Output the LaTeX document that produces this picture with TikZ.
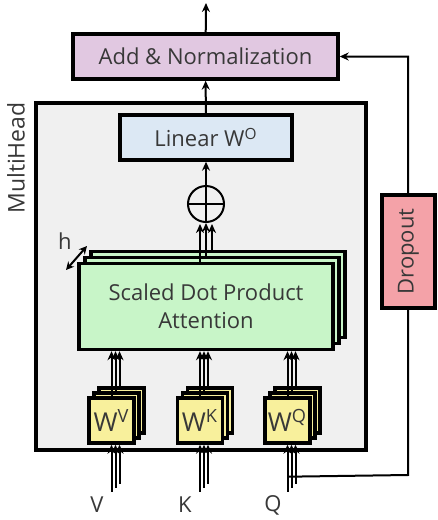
\documentclass[tikz,border=0pt]{standalone}
\usepackage{fontspec}
\setmainfont{Open Sans}
\usetikzlibrary{arrows.meta}

\definecolor{addcol}{HTML}{E1C8E1}
\definecolor{mhcol}{HTML}{F0F0F0}
\definecolor{lincol}{HTML}{DCE8F4}
\definecolor{attcol}{HTML}{C8F5C8}
\definecolor{wcol}{HTML}{F8F09C}
\definecolor{dropcol}{HTML}{F4A2A8}
\definecolor{txtcol}{HTML}{383838}

\begin{document}
\begin{tikzpicture}[x=0.5pt,y=-0.5pt,
    box/.style={draw,line width=1.7pt,inner sep=0pt,text=txtcol,font=\fontsize{11}{14}\selectfont},
    arr/.style={-{Stealth[length=4.5pt,width=4pt]},line width=1pt},
    wbox/.style={box,fill=wcol,minimum width=22.5pt,minimum height=22.5pt,font=\fontsize{13}{15}\selectfont},
    attbox/.style={box,fill=attcol,minimum width=127pt,minimum height=43pt,align=center}]
  \useasboundingbox (0,0) rectangle (438,520);

  % outer block
  \node[box,fill=mhcol,minimum width=165pt,minimum height=173.5pt] (mh) at (201,276.5) {};
  \node[rotate=90,text=txtcol,font=\fontsize{11.5}{14}\selectfont] (mhlabel) at (16,158) {MultiHead};

  \node[box,fill=addcol,minimum width=132.5pt,minimum height=22.5pt] (addnorm) at (205.5,56.5) {Add \& Normalization};
  \node[box,fill=lincol,minimum width=86pt,minimum height=22.5pt] (linear) at (206,137.5) {Linear W\textsuperscript{O}};
  \node[draw,circle,line width=1pt,minimum size=18pt,inner sep=0pt] (plus) at (206,204) {};
  \draw [line width=1pt] (plus.north) -- (plus.south) (plus.west) -- (plus.east);

  % h copies of the attention
  \node[attbox] (sdpaC) at (218,294.5) {};
  \node[attbox] (sdpaB) at (212,300.5) {};
  \node[attbox] (sdpa) at (206,306.5) {Scaled Dot Product\\Attention};
  \coordinate (hA) at (66,270);
  \coordinate (hB) at (87,246);
  \draw [{Stealth[length=4pt,width=4pt]}-{Stealth[length=4pt,width=4pt]},line width=1pt] (hA) -- (hB);
  \node[text=txtcol,font=\fontsize{11}{14}\selectfont] (hlabel) at (65,241) {h};

  % projections
  \foreach \n/\x/\s in {wv/111.5/V,wk/200/K,wq/287.5/Q}{
    \node[wbox] (\n C) at (\x+10,410.5) {};
    \node[wbox] (\n B) at (\x+5,415.5) {};
    \node[wbox] (\n) at (\x,420.5) {W\textsuperscript{\s}};
  }
  \node[text=txtcol,font=\fontsize{11}{14}\selectfont] (vin) at (97,505) {V};
  \node[text=txtcol,font=\fontsize{11}{14}\selectfont] (kin) at (185,505) {K};
  \node[text=txtcol,font=\fontsize{11}{14}\selectfont] (qin) at (273,505) {Q};

  \foreach \n in {wv,wk,wq}{
    \foreach \i in {0,1,2}{
      \path ([shift={({4*\i},{-5*\i})}]\n.north) coordinate (t)
            ([shift={({4*\i},{47-4*\i})}]\n.south) coordinate (b)
            ([shift={({4*\i},0)}]\n.south) coordinate (e);
      \draw [arr] (t) -- (t |- sdpa.south);
      \draw [arr] (b) -- (e);
    }
  }

  % heads into the sum
  \draw [arr] ([xshift=-3pt]sdpa.north) -- ([xshift=-3pt,yshift=-0.5pt]plus.south);
  \draw [arr] ([yshift=3pt]sdpa.north) -- (plus.south);
  \draw [arr] ([shift={(3pt,6pt)}]sdpa.north) -- ([xshift=3pt,yshift=-0.5pt]plus.south);
  \draw [arr] (plus) -- (linear);
  \draw [arr] (linear) -- (addnorm);
  \coordinate (out) at (206,3);
  \draw [arr] (addnorm) -- (out);

  % residual
  \coordinate (res) at ([yshift=-16pt]wq.south);
  \coordinate (rc) at (408,475);
  \draw [arr] (res) -- (rc) |- (addnorm.east);
  \node[box,fill=dropcol,rotate=90,minimum width=56.5pt,minimum height=26.5pt] (drop) at (408.5,251.5) {Dropout};
\end{tikzpicture}
\end{document}
